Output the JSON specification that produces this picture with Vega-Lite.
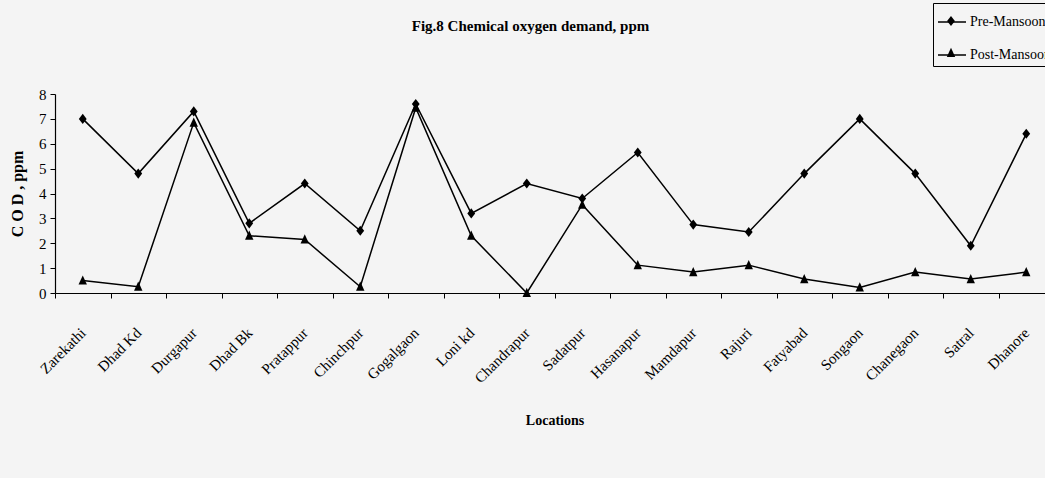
{
  "$schema": "https://vega.github.io/schema/vega-lite/v6.json",
  "width": 999,
  "height": 199,
  "autosize": {"type": "none"},
  "padding": {"left": 55, "top": 94, "right": 0, "bottom": 185},
  "background": "#f4f4f4",
  "title": {"text": "Fig.8 Chemical oxygen demand, ppm", "font": "Liberation Serif", "fontSize": 15, "fontWeight": "bold", "anchor": "middle", "dx": -24, "offset": -31, "color": "black"},
  "config": {"view": {"stroke": null}, "font": "Liberation Serif"},
  "data": {"values": [
    {"location": "Zarekathi", "season": "Pre-Mansoon", "cod": 7.0},
    {"location": "Dhad Kd", "season": "Pre-Mansoon", "cod": 4.8},
    {"location": "Durgapur", "season": "Pre-Mansoon", "cod": 7.3},
    {"location": "Dhad Bk", "season": "Pre-Mansoon", "cod": 2.8},
    {"location": "Pratappur", "season": "Pre-Mansoon", "cod": 4.4},
    {"location": "Chinchpur", "season": "Pre-Mansoon", "cod": 2.5},
    {"location": "Gogalgaon", "season": "Pre-Mansoon", "cod": 7.6},
    {"location": "Loni kd", "season": "Pre-Mansoon", "cod": 3.2},
    {"location": "Chandrapur", "season": "Pre-Mansoon", "cod": 4.4},
    {"location": "Sadatpur", "season": "Pre-Mansoon", "cod": 3.8},
    {"location": "Hasanapur", "season": "Pre-Mansoon", "cod": 5.65},
    {"location": "Mamdapur", "season": "Pre-Mansoon", "cod": 2.75},
    {"location": "Rajuri", "season": "Pre-Mansoon", "cod": 2.45},
    {"location": "Fatyabad", "season": "Pre-Mansoon", "cod": 4.8},
    {"location": "Songaon", "season": "Pre-Mansoon", "cod": 7.0},
    {"location": "Chanegaon", "season": "Pre-Mansoon", "cod": 4.8},
    {"location": "Satral", "season": "Pre-Mansoon", "cod": 1.9},
    {"location": "Dhanore", "season": "Pre-Mansoon", "cod": 6.4},
    {"location": "Zarekathi", "season": "Post-Mansoon", "cod": 0.5},
    {"location": "Dhad Kd", "season": "Post-Mansoon", "cod": 0.25},
    {"location": "Durgapur", "season": "Post-Mansoon", "cod": 6.85},
    {"location": "Dhad Bk", "season": "Post-Mansoon", "cod": 2.3},
    {"location": "Pratappur", "season": "Post-Mansoon", "cod": 2.15},
    {"location": "Chinchpur", "season": "Post-Mansoon", "cod": 0.25},
    {"location": "Gogalgaon", "season": "Post-Mansoon", "cod": 7.45},
    {"location": "Loni kd", "season": "Post-Mansoon", "cod": 2.3},
    {"location": "Chandrapur", "season": "Post-Mansoon", "cod": 0.0},
    {"location": "Sadatpur", "season": "Post-Mansoon", "cod": 3.55},
    {"location": "Hasanapur", "season": "Post-Mansoon", "cod": 1.12},
    {"location": "Mamdapur", "season": "Post-Mansoon", "cod": 0.84},
    {"location": "Rajuri", "season": "Post-Mansoon", "cod": 1.12},
    {"location": "Fatyabad", "season": "Post-Mansoon", "cod": 0.56},
    {"location": "Songaon", "season": "Post-Mansoon", "cod": 0.22},
    {"location": "Chanegaon", "season": "Post-Mansoon", "cod": 0.84},
    {"location": "Satral", "season": "Post-Mansoon", "cod": 0.56},
    {"location": "Dhanore", "season": "Post-Mansoon", "cod": 0.84}
  ]},
  "encoding": {
    "x": {
      "field": "location", "type": "nominal", "sort": null, "bandPosition": 0.5,
      "scale": {"type": "band", "paddingInner": 0, "paddingOuter": 0},
      "axis": {
        "title": "Locations", "titleFont": "Liberation Serif", "titleFontSize": 14, "titleFontWeight": "bold", "titleColor": "black", "titlePadding": 28,
        "labelAngle": -45, "labelAlign": "right", "labelBaseline": "middle", "labelOffset": 0, "labelPadding": 32,
        "labelFont": "Liberation Serif", "labelFontSize": 15, "labelColor": "black",
        "tickBand": "extent", "tickSize": 5, "tickColor": "black", "domainColor": "black", "domainWidth": 1.2, "grid": false
      }
    },
    "y": {
      "field": "cod", "type": "quantitative",
      "scale": {"domain": [0, 8], "nice": false},
      "axis": {
        "title": "C O D , ppm", "titleFont": "Liberation Serif", "titleFontSize": 16, "titleFontWeight": "bold", "titleColor": "black", "titlePadding": 13,
        "values": [0, 1, 2, 3, 4, 5, 6, 7, 8], "labelFont": "Liberation Serif", "labelFontSize": 15, "labelColor": "black", "labelPadding": 4,
        "tickSize": 5, "tickColor": "black", "domainColor": "black", "domainWidth": 1.2, "grid": false
      }
    }
  },
  "layer": [
    {
      "mark": {"type": "line", "strokeWidth": 1.5, "clip": false},
      "encoding": {
        "stroke": {
          "field": "season", "type": "nominal",
          "scale": {"domain": ["Pre-Mansoon", "Post-Mansoon"], "range": ["black", "black"]},
          "legend": {
            "title": null, "orient": "none", "legendX": 878, "legendY": -91,
            "padding": 4, "strokeColor": "black", "fillColor": "#f4f4f4",
            "labelFont": "Liberation Serif", "labelFontSize": 14, "labelColor": "black", "labelOffset": 3,
            "symbolType": "stroke", "symbolSize": 784, "symbolStrokeWidth": 1.5, "symbolStrokeColor": "black", "rowPadding": 11
          }
        }
      }
    },
    {
      "mark": {"type": "point", "filled": true, "color": "black", "opacity": 1, "size": 784, "clip": false},
      "encoding": {
        "shape": {
          "field": "season", "type": "nominal", "sort": ["Pre-Mansoon", "Post-Mansoon"],
          "scale": {"range": ["M0,-0.36L0.28,0L0,0.36L-0.28,0Z", "M0,-0.37L0.3,0.29L-0.3,0.29Z"]},
          "legend": {
            "title": null, "orient": "none", "legendX": 878, "legendY": -91,
            "padding": 4, "strokeColor": null, "fillColor": null,
            "labelFont": "Liberation Serif", "labelFontSize": 14, "labelOpacity": 0, "labelOffset": 3,
            "symbolSize": 784, "symbolFillColor": "black", "symbolStrokeWidth": 0, "symbolOpacity": 1, "rowPadding": 11
          }
        }
      }
    }
  ]
}
